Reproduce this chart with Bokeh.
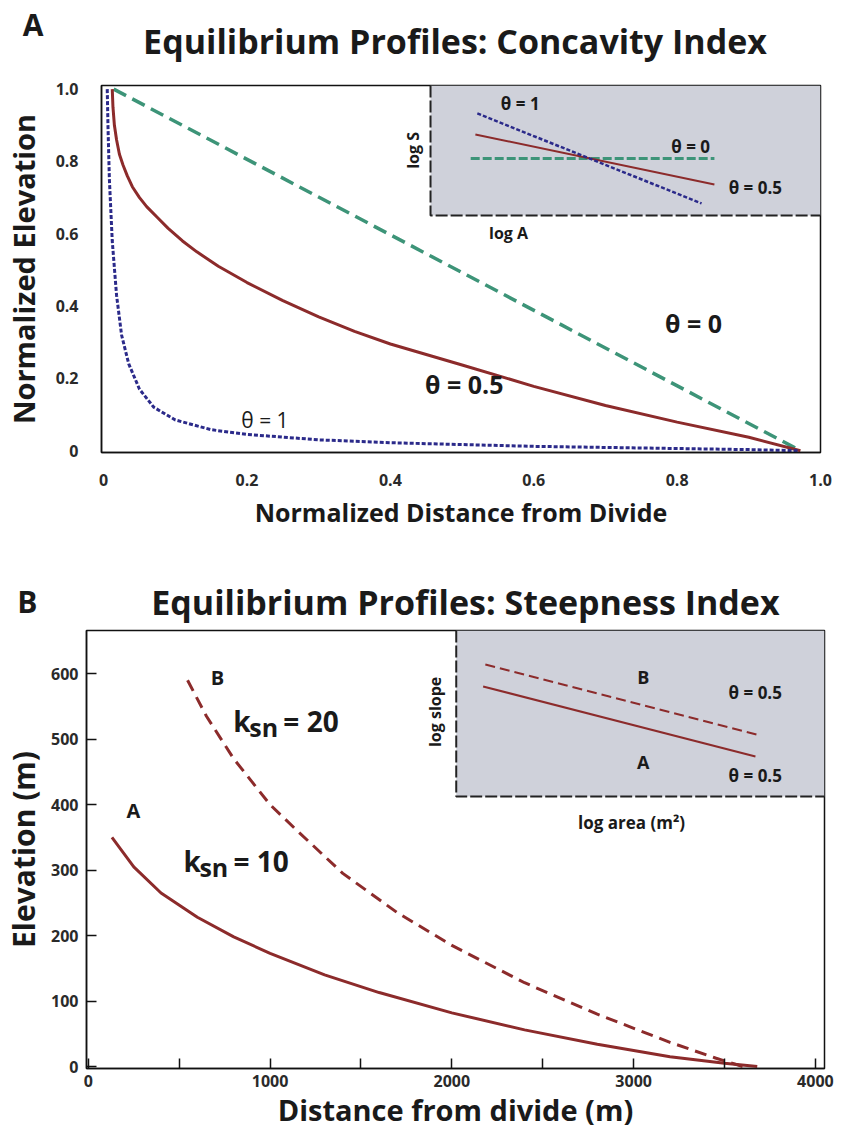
import math
from bokeh.plotting import figure
from bokeh.layouts import column
from bokeh.models import Range1d, Label, FixedTicker
from bokeh.embed import file_html
from bokeh.resources import INLINE

FONT = "Open Sans"

# ---------------- Panel A data (normalized) ----------------
a_dist_theta0 = [0.014, 0.972]
a_elev_theta0 = [1.0, 0.0]

a_dist_theta05 = [0.012, 0.013, 0.015, 0.018, 0.022, 0.027, 0.033, 0.04, 0.05, 0.06, 0.075,
                  0.09, 0.11, 0.13, 0.16, 0.2, 0.25, 0.3, 0.35, 0.4, 0.5, 0.6, 0.7, 0.8,
                  0.9, 0.972]
a_elev_theta05 = [1.0, 0.95, 0.9, 0.86, 0.82, 0.79, 0.76, 0.73, 0.70, 0.675, 0.645,
                  0.615, 0.58, 0.55, 0.51, 0.465, 0.415, 0.37, 0.33, 0.295, 0.237, 0.178,
                  0.125, 0.079, 0.037, 0.0]

a_dist_theta1 = [0.005, 0.006, 0.008, 0.012, 0.018, 0.025, 0.035, 0.05, 0.07, 0.1,
                 0.15, 0.2, 0.3, 0.4, 0.5, 0.6, 0.7, 0.8, 0.9, 0.97]
a_elev_theta1 = [1.0, 0.9, 0.75, 0.58, 0.43, 0.32, 0.24, 0.17, 0.12, 0.085,
                 0.058, 0.045, 0.03, 0.022, 0.017, 0.012, 0.009, 0.006, 0.003, 0.0]

a_ticks = [0, 0.2, 0.4, 0.6, 0.8, 1.0]
a_tick_labels = ["0", "0.2", "0.4", "0.6", "0.8", "1.0"]

# inset A (log A vs log S, arbitrary 0-10 units)
insA_logA_theta1 = [1.2, 6.95]
insA_logS_theta1 = [7.85, 0.92]
insA_logA_theta05 = [1.15, 7.28]
insA_logS_theta05 = [6.23, 2.38]
insA_logA_theta0 = [1.03, 7.28]
insA_logS_theta0 = [4.38, 4.38]

# ---------------- Panel B data ----------------
b_dist_ksn20 = [546, 650, 800, 1000, 1150, 1400, 1700, 2000, 2400, 2800, 3200, 3450, 3600]
b_elev_ksn20 = [590, 535, 470, 400, 360, 295, 235, 185, 128, 80, 37, 13, 0]

b_dist_ksn10 = [130, 250, 400, 600, 800, 1000, 1300, 1600, 2000, 2400, 2800, 3200, 3500, 3680]
b_elev_ksn10 = [350, 305, 265, 228, 198, 173, 140, 113, 82, 56, 34, 15, 5, 0]

b_xticks = [0, 500, 1000, 1500, 2000, 2500, 3000, 3500, 4000]
b_xtick_labels = ["0", "", "1000", "", "2000", "", "3000", "", "4000"]
b_yticks = [0, 100, 200, 300, 400, 500, 600]
b_ytick_labels = ["0", "100", "200", "300", "400", "500", "600"]

# inset B (log area vs log slope, arbitrary 0-10 units)
insB_logarea_B = [0.79, 8.26]
insB_logslope_B = [7.95, 3.67]
insB_logarea_A = [0.73, 8.125]
insB_logslope_A = [6.63, 2.41]

RED = "#8c2b2b"
GREEN = "#3d9478"
BLUE = "#2b2a8a"
INSET_BG = "#cfd1da"
TXT = "#1a1a1a"
W = 828


def style(p):
    p.background_fill_color = "white"
    p.border_fill_color = "white"
    p.outline_line_color = "#111111"
    p.outline_line_width = 1.5
    p.xgrid.visible = False
    p.ygrid.visible = False
    for ax in (p.xaxis[0], p.yaxis[0]):
        ax.axis_line_color = "#111111"
        ax.axis_line_width = 1.5
        ax.major_label_text_font = FONT
        ax.major_label_text_font_style = "bold"
        ax.major_label_text_font_size = "16px"
        ax.major_label_text_color = "#2a2a2a"
        ax.axis_label_text_font = FONT
        ax.axis_label_text_font_style = "bold"
        ax.axis_label_text_color = TXT
        ax.minor_tick_line_color = None


def lbl(p, x, y, text, size, bold=True, align="center", angle=0.0, xr="default", yr="default",
        color=TXT, baseline="middle", xoff=0, yoff=0):
    p.add_layout(Label(x=x, y=y, text=text, text_font=FONT, text_font_size=f"{size}px",
                       text_font_style="bold" if bold else "normal", text_align=align,
                       text_baseline=baseline, angle=angle, text_color=color,
                       x_range_name=xr, y_range_name=yr, x_offset=xoff, y_offset=yoff))


def header(height, left, right, letter, letter_y, letter_gap, title, title_x, title_y):
    """Title strip whose frame lines up with the panel below; the panel letter
    is drawn as the single tick label of the strip's left axis."""
    h = figure(width=W, height=height, x_range=Range1d(left, W - right),
               y_range=Range1d(0, height), x_axis_location=None, y_axis_location="left",
               min_border_left=left, min_border_right=right, min_border_top=0,
               min_border_bottom=0, toolbar_location=None, output_backend="svg", title=None)
    h.outline_line_color = None
    h.xgrid.visible = False
    h.ygrid.visible = False
    ax = h.yaxis[0]
    ax.ticker = FixedTicker(ticks=[letter_y])
    ax.major_label_overrides = {letter_y: letter}
    ax.axis_line_color = None
    ax.major_tick_line_color = None
    ax.minor_tick_line_color = None
    ax.major_label_text_font = FONT
    ax.major_label_text_font_style = "bold"
    ax.major_label_text_font_size = "30px"
    ax.major_label_text_color = TXT
    ax.major_label_standoff = letter_gap
    lbl(h, title_x, title_y, title, 34)
    return h


# ================= Panel A =================
A_LEFT, A_FW = 90, 719
A_RIGHT = W - A_LEFT - A_FW
hA = header(70, A_LEFT, A_RIGHT, "A", 46, 52, "Equilibrium Profiles: Concavity Index", 449, 30)

pA = figure(frame_width=A_FW, frame_height=367, x_range=Range1d(-0.003, 1.0),
            y_range=Range1d(-0.005, 1.01), output_backend="svg", toolbar_location=None,
            min_border_left=A_LEFT, min_border_right=A_RIGHT, min_border_top=15,
            min_border_bottom=107, title=None)
style(pA)
pA.extra_x_ranges = {"ix": Range1d(-8.437, 10)}
pA.extra_y_ranges = {"iy": Range1d(-18.25, 10)}

pA.xaxis.ticker = FixedTicker(ticks=a_ticks)
pA.yaxis.ticker = FixedTicker(ticks=a_ticks)
pA.xaxis.major_label_overrides = dict(zip(a_ticks, a_tick_labels))
pA.yaxis.major_label_overrides = dict(zip(a_ticks, a_tick_labels))
for ax in (pA.xaxis[0], pA.yaxis[0]):
    ax.major_tick_line_color = None
pA.xaxis.axis_label = "Normalized Distance from Divide"
pA.yaxis.axis_label = "Normalized Elevation"
pA.xaxis.axis_label_text_font_size = "25px"
pA.yaxis.axis_label_text_font_size = "29px"
pA.xaxis.major_label_standoff = 15
pA.yaxis.major_label_standoff = 17
pA.xaxis.axis_label_standoff = 6
pA.yaxis.axis_label_standoff = 10

# inset background
pA.quad(left=0, right=10, bottom=0, top=10, fill_color=INSET_BG, line_color=None,
        x_range_name="ix", y_range_name="iy")
pA.line([0, 0, 10], [10, 0, 0], line_color="#222222", line_width=2, line_dash="12 3",
        x_range_name="ix", y_range_name="iy")

# main curves
pA.line(a_dist_theta0, a_elev_theta0, line_color=GREEN, line_width=3.5, line_dash="14 7")
pA.line(a_dist_theta05, a_elev_theta05, line_color=RED, line_width=3)
pA.line(a_dist_theta1, a_elev_theta1, line_color=BLUE, line_width=3, line_dash="4 2")

# inset curves
pA.line(insA_logA_theta0, insA_logS_theta0, line_color=GREEN, line_width=3, line_dash="9 3",
        x_range_name="ix", y_range_name="iy")
pA.line(insA_logA_theta05, insA_logS_theta05, line_color=RED, line_width=2,
        x_range_name="ix", y_range_name="iy")
pA.line(insA_logA_theta1, insA_logS_theta1, line_color=BLUE, line_width=2.5, line_dash="4 2",
        x_range_name="ix", y_range_name="iy")

lbl(pA, 2.3, 8.6, "θ = 1", 17, xr="ix", yr="iy")
lbl(pA, 6.67, 5.3, "θ = 0", 17, xr="ix", yr="iy")
lbl(pA, 8.33, 2.15, "θ = 0.5", 17, xr="ix", yr="iy")
lbl(pA, -0.44, 5.0, "log S", 16, angle=math.pi / 2, xr="ix", yr="iy")
lbl(pA, 2.0, -1.38, "log A", 16, xr="ix", yr="iy")

lbl(pA, 0.503, 0.185, "θ = 0.5", 25)
lbl(pA, 0.823, 0.354, "θ = 0", 25)
lbl(pA, 0.225, 0.086, "θ = 1", 21, bold=False)

# ================= Panel B =================
B_LEFT, B_FW = 80, 738
B_RIGHT = W - B_LEFT - B_FW
hB = header(67, B_LEFT, B_RIGHT, "B", 25, 43, "Equilibrium Profiles: Steepness Index", 462, 25)

pB = figure(frame_width=B_FW, frame_height=438, x_range=Range1d(-10, 4050),
            y_range=Range1d(-3, 666), output_backend="svg", toolbar_location=None,
            min_border_left=B_LEFT, min_border_right=B_RIGHT, min_border_top=4,
            min_border_bottom=66, title=None)
style(pB)
pB.extra_x_ranges = {"ix": Range1d(-10.04, 10)}
pB.extra_y_ranges = {"iy": Range1d(-16.38, 10)}

pB.xaxis.ticker = FixedTicker(ticks=b_xticks)
pB.yaxis.ticker = FixedTicker(ticks=b_yticks)
pB.xaxis.major_label_overrides = dict(zip(b_xticks, b_xtick_labels))
pB.yaxis.major_label_overrides = dict(zip(b_yticks, b_ytick_labels))
for ax in (pB.xaxis[0], pB.yaxis[0]):
    ax.major_tick_in = 10
    ax.major_tick_out = 0
    ax.major_tick_line_color = "#111111"
    ax.major_tick_line_width = 1.5
pB.xaxis.axis_label = "Distance from divide (m)"
pB.yaxis.axis_label = "Elevation (m)"
pB.xaxis.axis_label_text_font_size = "29px"
pB.yaxis.axis_label_text_font_size = "30px"
pB.xaxis.major_label_standoff = 6
pB.yaxis.major_label_standoff = 8
pB.xaxis.axis_label_standoff = 0
pB.yaxis.axis_label_standoff = 4

pB.quad(left=0, right=10, bottom=0, top=10, fill_color=INSET_BG, line_color=None,
        x_range_name="ix", y_range_name="iy")
pB.line([0, 0, 10], [10, 0, 0], line_color="#222222", line_width=2, line_dash="12 3",
        x_range_name="ix", y_range_name="iy")

pB.line(b_dist_ksn20, b_elev_ksn20, line_color=RED, line_width=3, line_dash="12 7")
pB.line(b_dist_ksn10, b_elev_ksn10, line_color=RED, line_width=3)

pB.line(insB_logarea_B, insB_logslope_B, line_color=RED, line_width=2, line_dash="10 5",
        x_range_name="ix", y_range_name="iy")
pB.line(insB_logarea_A, insB_logslope_A, line_color=RED, line_width=2,
        x_range_name="ix", y_range_name="iy")

lbl(pB, 5.08, 7.17, "B", 18, xr="ix", yr="iy")
lbl(pB, 8.12, 6.27, "θ = 0.5", 17, xr="ix", yr="iy")
lbl(pB, 5.08, 2.05, "A", 18, xr="ix", yr="iy")
lbl(pB, 8.12, 1.27, "θ = 0.5", 17, xr="ix", yr="iy")
lbl(pB, -0.57, 5.1, "log slope", 16, angle=math.pi / 2, xr="ix", yr="iy")
lbl(pB, 4.76, -1.57, "log area (m²)", 17, xr="ix", yr="iy")

lbl(pB, 710, 594, "B", 20)
lbl(pB, 248, 391, "A", 20)
for x0, y0, num in ((798, 528, "= 20"), (523, 314, "= 10")):
    lbl(pB, x0, y0, "k", 28, align="left")
    lbl(pB, x0, y0, "sn", 25, align="left", xoff=16, yoff=-6)
    lbl(pB, x0, y0, num, 28, align="left", xoff=50)

colA = column(hA, pA, spacing=0)
colB = column(hB, pB, spacing=0)
layout = column(colA, colB, spacing=0)
open("out.html", "w").write(file_html(layout, INLINE))
